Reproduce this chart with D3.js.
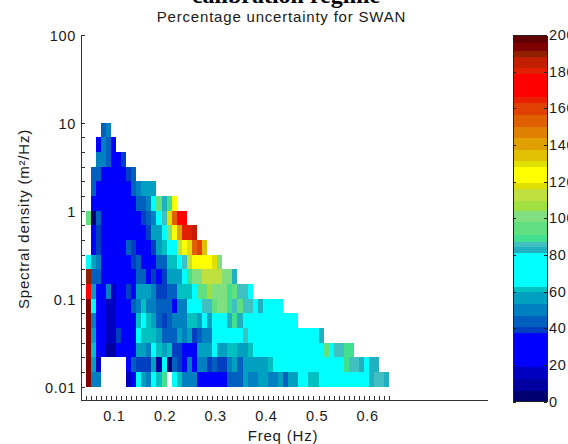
<!DOCTYPE html>
<html><head><meta charset="utf-8">
<script src="https://cdnjs.cloudflare.com/ajax/libs/d3/7.8.5/d3.min.js"></script>
<style>
html,body{margin:0;padding:0;background:#fff;overflow:hidden}
text{font-family:"Liberation Sans",Arial,sans-serif;fill:#1a1a1a}
</style></head><body>
<svg id="c" width="568" height="444"></svg>
<script>
const _ = null;
const titleText = "calibration regime";
const subtitleText = "Percentage uncertainty for SWAN";
const xLabelText = "Freq (Hz)";
const yLabelText = "Spectral density (m²/Hz)";
const xTickLabels = [0.1,0.2,0.3,0.4,0.5,0.6];
const yTickLabels = [0.01,0.1,1,10,100];
const barTickLabels = [0,20,40,60,80,100,120,140,160,180,200];

// colour bands: upper bound of each band (percent) and its colour
const bandTops = [5.5,12.2,18.8,37.6,40.6,46.8,53.3,59.7,62.4,81,84.2,87.3,90.9,97.7,103.7,109.5,115.9,119.1,128.2,131.5,137.3,143.7,150,156.4,162.8,166,178.7,182,188,191,195.5,200];
const bandColors = ["#000070","#0000a0","#0000c0","#0000ff","#0040c0","#0060c0","#0080c0","#00a0c0","#00c0c0","#00ffff","#20b0c0","#40c0c0","#40e090","#60e080","#80e080","#a0e040","#c0e040","#e0e000","#ffff00","#e0e000","#e0c000","#e0a000","#e08000","#e06000","#e04000","#e82000","#ff0000","#e02000","#c02000","#902000","#800000","#600000"];

// percentage uncertainty, one list per spectral-density bin (row00 = lowest), columns start at 0.04 Hz
const row00=[193,50,50,_,_,_,_,_,15,30,72,56,50,72,61,89,_,72,61,50,50,50,30,30,30,30,30,30,44,44,44,56,50,50,56,56,50,50,56,44,56,56,72,72,61,61,72,72,72,72,72,72,72,72,72,72,83,86,86,83];
const row01=[193,56,15,_,_,_,_,_,30,44,39,39,39,56,9,72,3,44,39,30,50,30,50,50,39,44,39,39,50,56,44,56,56,56,56,56,61,72,72,72,72,72,72,72,72,72,72,72,72,72,72,89,86,86,83,72,83,83];
const row02=[193,61,30,30,9,9,30,30,30,30,56,56,50,72,61,56,61,39,39,30,30,30,56,56,56,72,56,56,61,61,56,56,61,72,72,72,72,72,72,72,72,72,72,72,72,72,72,94,72,86,86,89,89];
const row03=[193,56,30,30,15,15,39,30,30,30,72,61,61,61,56,44,44,44,56,50,56,39,44,50,50,72,72,72,72,72,72,86,72,72,72,72,72,72,72,72,72,72,72,72,72,72,83];
const row04=[193,50,30,30,15,15,30,30,30,30,61,72,61,56,44,39,44,50,50,50,61,61,56,72,56,72,72,72,83,89,83,72,72,72,72,72,72,72,72,72,72,72];
const row05=[193,72,30,30,15,15,30,30,30,44,50,61,50,50,44,44,44,30,50,50,72,72,72,86,86,94,100,100,89,86,94,86,86,72,83,72,72,72,72];
const row06=[172,56,30,30,50,15,30,30,39,30,56,56,56,50,39,39,44,44,61,61,61,72,94,94,107,100,100,100,89,94,86,86,72];
const row07=[190,44,44,30,30,30,30,30,30,30,44,44,30,39,30,39,56,56,56,72,89,100,100,113,113,113,113,100,100,83];
const row08=[72,56,50,30,30,30,30,30,30,39,44,30,30,30,44,44,61,61,72,86,113,124,124,124,124,118,100];
const row09=[_,30,39,30,30,30,30,30,44,39,30,30,30,39,56,61,72,72,113,124,118,153,160,134];
const row10=[_,30,39,30,30,30,30,30,30,30,30,30,39,56,56,72,100,124,140,180,180,185];
const row11=[94,3,44,30,30,30,30,30,30,30,30,39,44,50,72,86,118,153,172,172];
const row12=[_,30,30,30,30,30,30,30,30,30,44,44,50,72,94,83,89,124];
const row13=[_,44,30,30,30,30,30,30,30,44,50,56,56,56];
const row14=[_,44,44,30,30,30,30,30,39,44];
const row15=[_,_,50,50,44,30,30,39];
const row16=[_,_,30,50,44,30];
const row17=[_,_,_,44,50];
const rows=[row00,row01,row02,row03,row04,row05,row06,row07,row08,row09,row10,row11,row12,row13,row14,row15,row16,row17];

const firstFreq=0.04, freqStep=0.01, nCols=60, rowsPerDecade=6, lowestS=0.01;
const freqEdges=d3.range(nCols+1).map(i=>firstFreq+i*freqStep);
const sEdges=d3.range(rows.length+1).map(i=>lowestS*Math.pow(10,i/rowsPerDecade));

const svg=d3.select("#c");
const x=d3.scaleLinear().domain([0.0311,0.8325]).range([81,487]);
const y=d3.scaleLog().domain([0.00706,100]).range([400,34.7]);
const color=d3.scaleThreshold().domain(bandTops.slice(0,-1)).range(bandColors);

// cells
const cells=[];
rows.forEach((r,ri)=>r.forEach((v,ci)=>{ if(v!==null) cells.push({ri,ci,v}); }));
svg.append("g").attr("shape-rendering","crispEdges").selectAll("rect").data(cells).join("rect")
  .attr("x",d=>x(freqEdges[d.ci]))
  .attr("width",d=>x(freqEdges[d.ci+1])-x(freqEdges[d.ci]))
  .attr("y",d=>y(sEdges[d.ri+1]))
  .attr("height",d=>y(sEdges[d.ri])-y(sEdges[d.ri+1]))
  .attr("fill",d=>color(d.v));

// axes
const near=(a,b)=>Math.abs(a-b)<1e-6*Math.max(Math.abs(b),1e-3);
const ax=d3.axisBottom(x).tickValues(freqEdges).tickSize(-4).tickSizeOuter(0).tickPadding(11)
  .tickFormat(f=>{const l=xTickLabels.find(t=>near(t,f));return l===undefined?"":String(l);});
const gx=svg.append("g").attr("transform","translate(0,400)").call(ax);
const ay=d3.axisLeft(y).tickValues(sEdges.concat([100])).tickSize(-4).tickSizeOuter(0).tickPadding(5)
  .tickFormat(s=>{const l=yTickLabels.find(t=>near(t,s));return l===undefined?"":String(l);});
const gy=svg.append("g").attr("transform","translate(81,0)").call(ay);
[gx,gy].forEach(g=>{
  g.selectAll("path,line").attr("stroke","#333").attr("stroke-width",1).attr("shape-rendering","crispEdges");
  g.selectAll("text").attr("font-size",14.5).attr("letter-spacing",0.7).attr("font-family",'"Liberation Sans",Arial,sans-serif').attr("fill","#1a1a1a");
});
gx.selectAll("text").attr("dx",-2);
gy.selectAll("text").each(function(){const t=d3.select(this);t.attr("dy",(parseFloat(t.attr("dy"))*14.5+1.5)+"px");});

// colour bar
const bx0=513, bx1=547;
const by=d3.scaleLinear().domain([0,200]).range([401.5,35]);
const bandBottoms=[0].concat(bandTops.slice(0,-1));
svg.append("g").attr("shape-rendering","crispEdges").selectAll("rect").data(bandTops).join("rect")
  .attr("x",bx0).attr("width",bx1-bx0)
  .attr("y",d=>by(d))
  .attr("height",(d,i)=>by(bandBottoms[i])-by(d))
  .attr("fill",(d,i)=>bandColors[i]);
const gbR=svg.append("g").attr("transform",`translate(${bx1},0)`)
  .call(d3.axisRight(by).tickValues(barTickLabels).tickSize(-3).tickSizeOuter(0).tickPadding(2));
const gbL=svg.append("g").attr("transform",`translate(${bx0},0)`)
  .call(d3.axisLeft(by).tickValues(barTickLabels).tickSize(-3).tickSizeOuter(0).tickFormat(""));
[gbR,gbL].forEach(g=>{
  g.selectAll("path,line").attr("stroke","#222").attr("stroke-width",1).attr("shape-rendering","crispEdges");
  g.selectAll("text").attr("font-size",14.5).attr("letter-spacing",0.7).attr("font-family",'"Liberation Sans",Arial,sans-serif').attr("fill","#1a1a1a");
});
svg.append("line").attr("x1",bx0).attr("x2",bx1).attr("y1",35).attr("y2",35).attr("stroke","#222").attr("shape-rendering","crispEdges");
svg.append("line").attr("x1",bx0).attr("x2",bx1).attr("y1",401.5).attr("y2",401.5).attr("stroke","#222").attr("shape-rendering","crispEdges");

// titles
svg.append("text").attr("x",286).attr("y",3).attr("text-anchor","middle")
  .style("font-family",'"Liberation Serif","Times New Roman",serif').style("font-weight","bold").style("font-size","24px").style("fill","#000").text(titleText);
svg.append("text").attr("x",281.5).attr("y",22).attr("text-anchor","middle").style("font-size","15px").style("letter-spacing","0.8px").text(subtitleText);
svg.append("text").attr("x",283).attr("y",441).attr("text-anchor","middle").style("font-size","15px").style("letter-spacing","0.8px").text(xLabelText);
svg.append("text").attr("transform","translate(29,219) rotate(-90)").attr("text-anchor","middle").style("font-size","15px").style("letter-spacing","0.8px").text(yLabelText);
</script>
</body></html>
